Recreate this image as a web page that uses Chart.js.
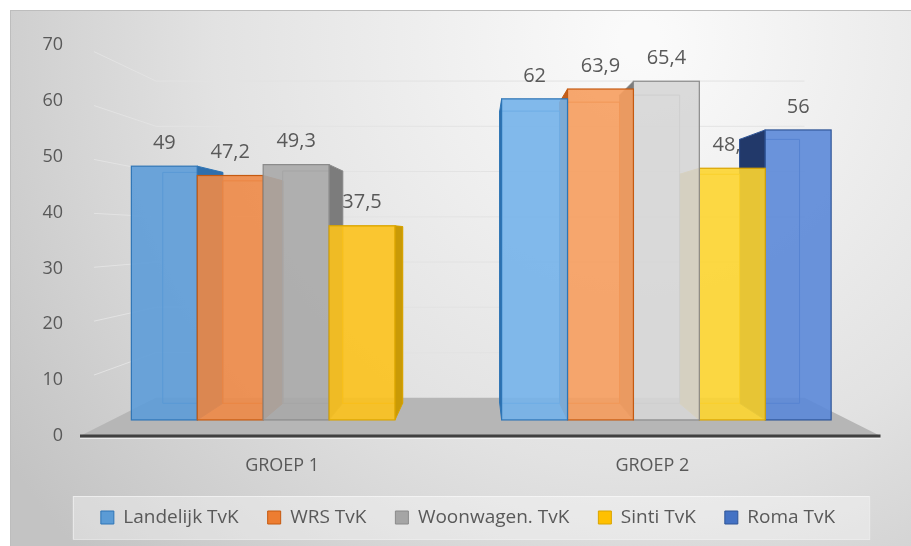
<!DOCTYPE html>
<html lang="nl">
<head>
<meta charset="utf-8">
<title>TvK per groep</title>
<script src="https://cdn.jsdelivr.net/npm/chart.js@4.4.1/dist/chart.umd.min.js"></script>
<style>
    html, body { margin: 0; padding: 0; background: #ffffff; }
    #wrap { width: 911px; height: 546px; }
</style>
</head>
<body>
<div id="wrap"><canvas id="chart" width="911" height="546"></canvas></div>
<script>
// Gegevens
const categories = ['GROEP 1', 'GROEP 2'];
const seriesNames = ['Landelijk TvK', 'WRS TvK', 'Woonwagen. TvK', 'Sinti TvK', 'Roma TvK'];
const landelijk = [49, 62];
const wrs = [47.2, 63.9];
const woonwagen = [49.3, 65.4];
const sinti = [37.5, 48.6];
const roma = [null, 56];
const yTickMin = 0;
const yTickMax = 70;
const yTickStep = 10;

// Kleuren per reeks: voorvlak per groep, zijvlak en rand
const barStyles = [
    { legend: '#5b9bd5', front: ['#5d9cd8', '#74b2ea'], side: '#2f6fad', edge: '#2e75b6' },
    { legend: '#ed7d31', front: ['#ee8a47', '#f69d5e'], side: '#c25e1c', edge: '#c55a11' },
    { legend: '#a5a5a5', front: ['#a9a9a9', '#d6d6d6'], side: '#7c7c7c', edge: '#8a8a8a' },
    { legend: '#ffc000', front: ['#fcc21c', '#fdd530'], side: '#c99a06', edge: '#d9a400' },
    { legend: '#4472c4', front: ['#5582d4', '#5b88d8'], side: '#22396a', edge: '#2f5597' }
];

// 3D-instellingen (perspectief naar een verdwijnpunt)
const WALL_SCALE = 0.81;   // achterwand t.o.v. voorrand vloer
const BAR_SCALE = 0.91;    // achtervlak staaf t.o.v. voorvlak
const VP_VALUE = 36;       // hoogte van het verdwijnpunt op de y-as
const FLOOR_EXT_LEFT = 31;
const FLOOR_EXT_RIGHT = 29;
const TEXT_COLOR = '#595959';
const FONT = 'Open Sans';

// Waarde met komma als decimaalteken
function formatValue(v) {
    return String(v).replace('.', ',');
}

function project(px, py, s, vp) {
    return [vp.x + (px - vp.x) * s, vp.y + (py - vp.y) * s];
}

function polygon(ctx, pts, fill, stroke) {
    ctx.beginPath();
    ctx.moveTo(pts[0][0], pts[0][1]);
    for (let k = 1; k < pts.length; k++) ctx.lineTo(pts[k][0], pts[k][1]);
    ctx.closePath();
    if (fill) { ctx.fillStyle = fill; ctx.fill(); }
    if (stroke) { ctx.strokeStyle = stroke; ctx.lineWidth = 1; ctx.stroke(); }
}

// Lege as die alleen ruimte inneemt
function spacerAxis(position, width, weight) {
    return {
        position: position,
        weight: weight,
        grid: { display: false },
        border: { display: false },
        ticks: { display: false },
        afterFit(scale) { scale.width = width; }
    };
}

// Plugin die achtergrond, wanden, vloer en 3D-staven tekent
const threeDPlugin = {
    id: 'threeD',

    getGeometry(chart) {
        const area = chart.chartArea;
        const yScale = chart.scales.y;
        const floorLeft = area.left - FLOOR_EXT_LEFT;
        const floorRight = area.right + FLOOR_EXT_RIGHT;
        const vp = { x: (floorLeft + floorRight) / 2, y: yScale.getPixelForValue(VP_VALUE) };
        return { area, yScale, floorLeft, floorRight, vp };
    },

    beforeDraw(chart) {
        const ctx = chart.ctx;
        const w = chart.width, h = chart.height;
        ctx.save();
        ctx.fillStyle = '#ffffff';
        ctx.fillRect(0, 0, w, h);

        // Achtergrond met verloop
        const grad = ctx.createRadialGradient(640, 40, 20, 640, 40, 760);
        grad.addColorStop(0, '#fafafa');
        grad.addColorStop(0.55, '#e2e2e2');
        grad.addColorStop(1, '#c3c3c3');
        ctx.fillStyle = grad;
        ctx.fillRect(11, 11, w - 11, h - 11);
        ctx.strokeStyle = '#bdbdbd';
        ctx.lineWidth = 1;
        ctx.strokeRect(10.5, 10.5, w, h);

        // Kader achter de legenda
        const boxes = chart.legend && chart.legend.legendHitBoxes;
        if (boxes && boxes.length) {
            const left = Math.min(...boxes.map(b => b.left)) - 28;
            const right = Math.max(...boxes.map(b => b.left + b.width)) + 34;
            const top = Math.min(...boxes.map(b => b.top)) - 12;
            const bottom = Math.max(...boxes.map(b => b.top + b.height)) + 12;
            ctx.fillStyle = 'rgba(255, 255, 255, 0.35)';
            ctx.fillRect(left, top, right - left, bottom - top);
            ctx.strokeStyle = 'rgba(255, 255, 255, 0.5)';
            ctx.strokeRect(left + 0.5, top + 0.5, right - left, bottom - top);
        }
        ctx.restore();
    },

    beforeDatasetsDraw(chart) {
        const ctx = chart.ctx;
        const g = this.getGeometry(chart);
        ctx.save();
        this.drawWalls(ctx, g);
        const bars = this.collectBars(chart);
        this.drawLabels(ctx, bars);
        // Verst van het verdwijnpunt eerst tekenen
        bars.sort((a, b) => Math.abs(b.cx - g.vp.x) - Math.abs(a.cx - g.vp.x));
        bars.forEach(b => this.drawBar(ctx, b, g.vp));
        ctx.restore();
        return false;
    },

    drawWalls(ctx, g) {
        const { yScale, floorLeft, floorRight, vp } = g;
        const y0 = yScale.getPixelForValue(yTickMin);

        // Vloer
        const bl = project(floorLeft, y0, WALL_SCALE, vp);
        const br = project(floorRight, y0, WALL_SCALE, vp);
        polygon(ctx, [[floorLeft, y0], [floorRight, y0], br, bl], '#b6b6b6');

        // Rasterlijnen op zijwand en achterwand
        ctx.strokeStyle = '#e3e3e3';
        ctx.lineWidth = 1;
        for (let v = yTickMin + yTickStep; v <= yTickMax; v += yTickStep) {
            const yf = yScale.getPixelForValue(v);
            const a = project(floorLeft, yf, WALL_SCALE, vp);
            const b = project(floorRight, yf, WALL_SCALE, vp);
            ctx.beginPath();
            ctx.moveTo(floorLeft + 14, yf + (a[1] - yf) * 14 / (a[0] - floorLeft));
            ctx.lineTo(a[0], a[1]);
            ctx.lineTo(b[0], b[1]);
            ctx.stroke();
        }

        // Voorrand van de vloer
        ctx.strokeStyle = '#404040';
        ctx.lineWidth = 3;
        ctx.beginPath();
        ctx.moveTo(floorLeft, y0);
        ctx.lineTo(floorRight, y0);
        ctx.stroke();
        ctx.strokeStyle = 'rgba(255,255,255,0.6)';
        ctx.lineWidth = 1;
        ctx.beginPath();
        ctx.moveTo(floorLeft, y0 + 2.5);
        ctx.lineTo(floorRight, y0 + 2.5);
        ctx.stroke();
    },

    collectBars(chart) {
        const bars = [];
        chart.data.datasets.forEach((ds, di) => {
            const meta = chart.getDatasetMeta(di);
            if (meta.hidden) return;
            meta.data.forEach((el, i) => {
                const v = ds.data[i];
                if (v === null || v === undefined) return;
                const p = el.getProps(['x', 'y', 'base', 'width'], true);
                bars.push({
                    di, i, v,
                    cx: p.x,
                    left: p.x - p.width / 2,
                    right: p.x + p.width / 2,
                    top: p.y,
                    bottom: p.base
                });
            });
        });
        return bars;
    },

    drawLabels(ctx, bars) {
        ctx.font = '20px "' + FONT + '"';
        ctx.fillStyle = TEXT_COLOR;
        ctx.textAlign = 'center';
        ctx.textBaseline = 'middle';
        bars.forEach(b => ctx.fillText(formatValue(b.v), b.cx, b.top - 23));
    },

    drawBar(ctx, b, vp) {
        const st = barStyles[b.di];
        const front = st.front[b.i];
        const [blx, bty] = project(b.left, b.top, BAR_SCALE, vp);
        const [brx, bby] = project(b.right, b.bottom, BAR_SCALE, vp);

        // Achtervlak (alleen de randen, schijnen door het voorvlak)
        polygon(ctx, [[blx, bty], [brx, bty], [brx, bby], [blx, bby]], null, st.edge);

        // Zijvlak
        if (b.right < vp.x) {
            polygon(ctx, [[b.right, b.top], [brx, bty], [brx, bby], [b.right, b.bottom]], st.side, st.edge);
        }
        if (b.left > vp.x) {
            polygon(ctx, [[b.left, b.top], [blx, bty], [blx, bby], [b.left, b.bottom]], st.side, st.edge);
        }
        // Bovenvlak (alleen zichtbaar onder het verdwijnpunt)
        if (b.top > vp.y) {
            polygon(ctx, [[b.left, b.top], [b.right, b.top], [brx, bty], [blx, bty]], front, st.edge);
        }

        // Voorvlak, licht doorzichtig
        ctx.globalAlpha = 0.9;
        polygon(ctx, [[b.left, b.top], [b.right, b.top], [b.right, b.bottom], [b.left, b.bottom]], front);
        ctx.globalAlpha = 1;
        ctx.strokeStyle = st.edge;
        ctx.lineWidth = 1.2;
        ctx.strokeRect(b.left, b.top, b.right - b.left, b.bottom - b.top);
    }
};

const datasets = [landelijk, wrs, woonwagen, sinti, roma].map((values, k) => ({
    label: seriesNames[k],
    data: values,
    backgroundColor: barStyles[k].legend,
    borderColor: barStyles[k].edge,
    borderWidth: 1,
    yAxisID: 'yBar'
}));

new Chart(document.getElementById('chart'), {
    type: 'bar',
    data: {
        labels: categories,
        datasets: datasets
    },
    options: {
        responsive: false,
        animation: false,
        events: [],
        datasets: {
            bar: { barPercentage: 1, categoryPercentage: 0.89 }
        },
        layout: {
            padding: { top: 45, right: 13, bottom: 9, left: 38 }
        },
        scales: {
            x: {
                grid: { display: false, drawTicks: false },
                border: { display: false },
                ticks: {
                    color: TEXT_COLOR,
                    font: { family: FONT, size: 18 },
                    labelOffset: -14,
                    padding: 19
                },
                afterFit(scale) { scale.height = 43; }
            },
            y: {
                position: 'left',
                weight: 2,
                min: yTickMin,
                max: yTickMax,
                grid: { display: false, drawTicks: false },
                border: { display: false },
                ticks: {
                    stepSize: yTickStep,
                    color: TEXT_COLOR,
                    font: { family: FONT, size: 18 },
                    padding: 8
                },
                afterFit(scale) { scale.width = 33; }
            },
            // Ruimte tussen aslabels en vloer, en rechts van de vloer
            yGap: spacerAxis('left', 40, 1),
            yRight: spacerAxis('right', 46.5, 1),
            // Verborgen as voor de staven (voorvlak ligt dieper dan de vloerrand)
            yBar: {
                display: false,
                min: -3.1,
                max: 72.4
            }
        },
        plugins: {
            legend: {
                position: 'bottom',
                labels: {
                    color: TEXT_COLOR,
                    font: { family: FONT, size: 19 },
                    boxWidth: 13,
                    boxHeight: 13,
                    padding: 29
                }
            },
            tooltip: { enabled: false }
        }
    },
    plugins: [threeDPlugin]
});
</script>
</body>
</html>
